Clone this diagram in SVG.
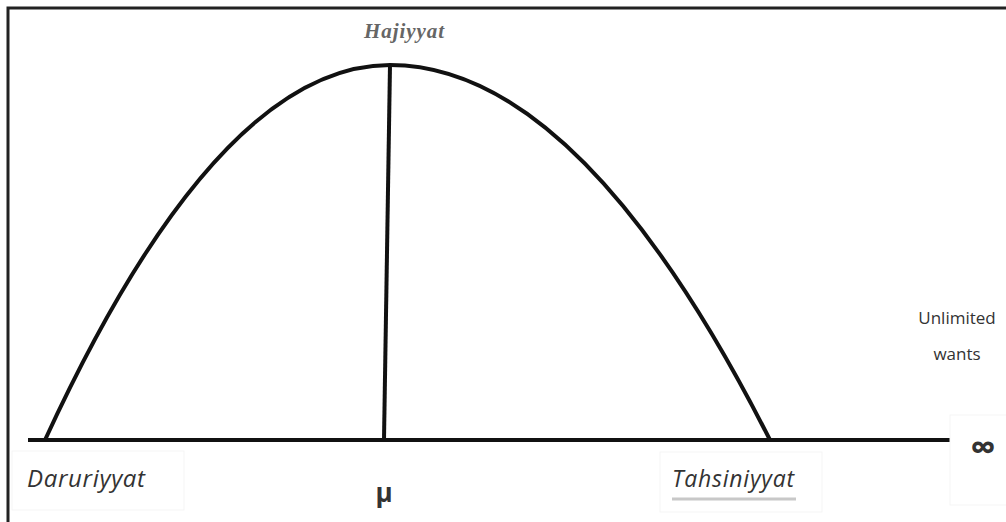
<svg xmlns="http://www.w3.org/2000/svg" width="1006" height="522" viewBox="0 0 1006 522">
<style>
.lbl{font-family:"Open Sans","Liberation Sans",sans-serif;fill:#333}
.it{font-style:italic}
.ln{stroke:#111;stroke-width:4;fill:none}
.box{fill:none;stroke:#f5f5f5;stroke-width:1}
</style>
<rect x="0" y="0" width="1006" height="522" fill="#fff"/>
<g id="frame">
<path d="M8,522 V8 H1006" fill="none" stroke="#222" stroke-width="3"/>
</g>
<g id="connectors">
<path class="ln" d="M28,440 H950" stroke-width="3.5"/>
<path class="ln" d="M45,440 Q217.5,65 390,65 Q580,65 770,440"/>
<path class="ln" d="M390,65 L384,440" stroke-width="3.5"/>
</g>
<g id="hajiyyat">
<text x="364" y="38" font-family="Liberation Serif,serif" font-style="italic" font-size="21" font-weight="bold" fill="#666" textLength="80">Hajiyyat</text>
</g>
<g id="daruriyyat">
<rect class="box" x="12" y="451" width="172" height="59"/>
<text class="lbl it" x="27" y="487" font-size="24" textLength="118">Daruriyyat</text>
</g>
<g id="mu">
<text class="lbl" x="384" y="502" font-size="26" font-weight="bold" text-anchor="middle" fill="#222">μ</text>
</g>
<g id="tahsiniyyat">
<rect class="box" x="660" y="452" width="162" height="60"/>
<text class="lbl it" x="672" y="487" font-size="23" textLength="122">Tahsiniyyat</text>
<line x1="672" y1="499" x2="796" y2="499" stroke="#c8c8c8" stroke-width="3"/>
</g>
<g id="unlimited">
<text class="lbl" x="957" y="324" font-size="17" text-anchor="middle">Unlimited</text>
<text class="lbl" x="957" y="360" font-size="17" text-anchor="middle">wants</text>
</g>
<g id="infinity">
<rect class="box" x="950" y="415" width="60" height="90"/>
<text class="lbl" x="983" y="460" font-size="36" font-weight="bold" text-anchor="middle" fill="#222">∞</text>
</g>
</svg>
